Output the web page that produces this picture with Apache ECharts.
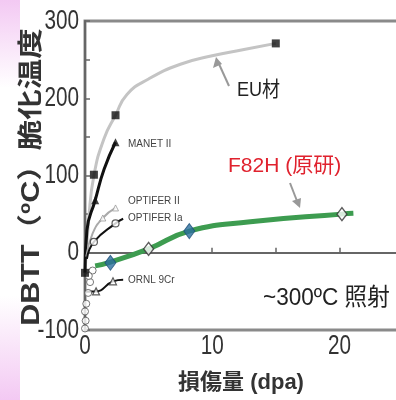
<!DOCTYPE html>
<html><head><meta charset="utf-8">
<script src="https://cdn.jsdelivr.net/npm/echarts@6/dist/echarts.min.js"></script>
<style>html,body{margin:0;padding:0;background:#fff}#c{width:396px;height:400px}</style>
</head><body><div id="c"></div>
<script>
// ---- data ----
var xTicks = [0, 10, 20];
var yTicks = [-100, 0, 100, 200, 300];
// EU材: fitted gray curve and measured points
var euCurve = [[0,-26],[0.3,45],[0.7,100],[1.5,148],[2.4,178],[3.3,205],[5,225],[7.5,244],[10,255],[12.5,263],[15,271]];
var euPoints = [[0,-26],[0.7,101],[2.4,178],[15,271]];
// MANET II
var manetLine = [[0,-26],[0.15,29],[0.8,68],[1.5,108],[2.4,143]];
var manetPoints = [[0.8,68],[2.4,143]];
// OPTIFER II
var optIILine = [[0.1,-5],[0.6,25],[1.4,45],[2.4,58]];
var optIIPoints = [[1.4,45],[2.4,58]];
// OPTIFER Ia
var optIaLine = [[0.15,-8],[0.7,14],[2.4,38],[3.0,44]];
var optIaPoints = [[0.7,14],[2.4,38]];
// ORNL 9Cr
var ornlLine = [[0,-50],[0.87,-50],[2.2,-37],[3.0,-35]];
var ornlPoints = [[0.87,-50],[2.2,-37]];
// F82H (原研)
var f82hCurve = [[0.8,-17],[2,-12],[5,5],[8.2,28],[13,40],[20.2,50],[21.1,51]];
var f82hBlue = [[2,-13],[8.2,28]];
var f82hOpen = [[5,5],[20.2,50]];
// other low-dose points near origin
var lowDose = [[0.6,-23],[0.4,-38],[0.25,-52],[0.1,-66],[0,-76],[0.05,-88],[0.3,-30],[0,-98]];

var chart = echarts.init(document.getElementById('c'));
var LBL = 'Liberation Sans, Noto Sans CJK JP, sans-serif';
var baseGraphics = [
  {type: 'rect', left: 0, top: 0, z: -1, shape: {width: 20, height: 400},
    style: {fill: new echarts.graphic.LinearGradient(0, 0, 0, 1, [
      {offset: 0, color: '#f3c9f3'}, {offset: 0.22, color: '#ffffff'},
      {offset: 0.74, color: '#ffffff'}, {offset: 1, color: '#f3c9f3'}])}},
  {type: 'text', x: 32, y: 177, rotation: Math.PI / 2, scaleX: 1.22, z: 10,
    style: {text: 'DBTT（ºC）脆化温度', font: 'bold 25px ' + LBL, fill: '#333', textAlign: 'center', textVerticalAlign: 'middle'}},
  {type: 'text', x: 241, y: 383, z: 10,
    style: {text: '損傷量 (dpa)', font: 'bold 22px ' + LBL, fill: '#333', textAlign: 'center', textVerticalAlign: 'middle'}},
  {type: 'text', x: 237, y: 90, scaleX: 0.86, z: 10,
    style: {text: 'EU材', font: '21px ' + LBL, fill: '#222', textVerticalAlign: 'middle'}},
  {type: 'text', x: 228, y: 166, z: 10,
    style: {text: 'F82H (原研)', font: '21px ' + LBL, fill: '#e0222e', textVerticalAlign: 'middle'}},
  {type: 'text', x: 263, y: 298, scaleX: 0.94, z: 10,
    style: {text: '~300ºC 照射', font: '24px ' + LBL, fill: '#222', textVerticalAlign: 'middle'}},
  {type: 'text', x: 128, y: 144, z: 10, style: {text: 'MANET II', font: '10px Liberation Sans', fill: '#444', textVerticalAlign: 'middle'}},
  {type: 'text', x: 128, y: 201, z: 10, style: {text: 'OPTIFER II', font: '10px Liberation Sans', fill: '#444', textVerticalAlign: 'middle'}},
  {type: 'text', x: 128, y: 218, z: 10, style: {text: 'OPTIFER Ia', font: '10px Liberation Sans', fill: '#444', textVerticalAlign: 'middle'}},
  {type: 'text', x: 128, y: 280, z: 10, style: {text: 'ORNL 9Cr', font: '10px Liberation Sans', fill: '#444', textVerticalAlign: 'middle'}},
  {type: 'line', z: 10, shape: {x1: 229, y1: 86, x2: 219, y2: 64}, style: {stroke: '#999', lineWidth: 2}},
  {type: 'polygon', z: 10, shape: {points: [[216, 57], [213, 68], [222, 64]]}, style: {fill: '#999'}},
  {type: 'line', z: 10, shape: {x1: 290, y1: 183, x2: 297, y2: 201}, style: {stroke: '#999', lineWidth: 2}},
  {type: 'polygon', z: 10, shape: {points: [[300, 208], [292, 201], [301, 198]]}, style: {fill: '#999'}}
];
chart.setOption({
  animation: false,
  backgroundColor: '#fff',
  grid: {left: 85, width: 318, top: 21, height: 309, outerBoundsMode: 'none', containLabel: false,
    show: true, borderColor: '#8a8a8a', borderWidth: 3},
  xAxis: {
    type: 'value', min: 0, max: 25, interval: 5,
    axisLine: {lineStyle: {color: '#666', width: 2}},
    axisTick: {inside: true, length: 5, lineStyle: {color: '#666', width: 1.5}},
    splitLine: {show: false},
    axisLabel: {show: false}
  },
  yAxis: {
    type: 'value', min: -100, max: 300, interval: 50,
    axisLine: {lineStyle: {color: '#666', width: 2}},
    axisTick: {inside: true, length: 5, lineStyle: {color: '#666', width: 1.5}},
    splitLine: {show: false},
    axisLabel: {show: false}
  },
  series: [
    {type: 'line', data: euCurve, smooth: true, showSymbol: false, lineStyle: {color: '#c4c4c4', width: 3}, z: 2},
    {type: 'scatter', data: euPoints, symbol: 'rect', symbolSize: 8, itemStyle: {color: '#111'}, z: 5},
    {type: 'line', data: manetLine, smooth: true, showSymbol: false, lineStyle: {color: '#111', width: 3}, z: 3},
    {type: 'scatter', data: manetPoints, symbol: 'triangle', symbolSize: 8, itemStyle: {color: '#111'}, z: 5},
    {type: 'line', data: optIILine, smooth: true, showSymbol: false, lineStyle: {color: '#aaa', width: 2}, z: 3},
    {type: 'scatter', data: optIIPoints, symbol: 'triangle', symbolSize: 6, itemStyle: {color: '#fff', borderColor: '#999', borderWidth: 1}, z: 5},
    {type: 'line', data: optIaLine, smooth: true, showSymbol: false, lineStyle: {color: '#111', width: 2}, z: 3},
    {type: 'scatter', data: optIaPoints, symbol: 'circle', symbolSize: 7, itemStyle: {color: '#fff', borderColor: '#333', borderWidth: 1.2}, z: 5},
    {type: 'line', data: ornlLine, smooth: true, showSymbol: false, lineStyle: {color: '#111', width: 2}, z: 3},
    {type: 'scatter', data: ornlPoints, symbol: 'triangle', symbolSize: 7, itemStyle: {color: '#fff', borderColor: '#333', borderWidth: 1.2}, z: 5},
    {type: 'scatter', data: lowDose, symbol: 'circle', symbolSize: 7, itemStyle: {color: '#fff', borderColor: '#555', borderWidth: 1}, z: 4},
    {type: 'line', data: f82hCurve, smooth: true, showSymbol: false, lineStyle: {color: '#3d9c50', width: 5}, z: 3},
    {type: 'scatter', data: f82hBlue, symbol: 'diamond', symbolSize: [11, 15], itemStyle: {color: '#2c6e9e', borderColor: '#1d4f78', borderWidth: 1}, z: 6},
    {type: 'scatter', data: f82hOpen, symbol: 'diamond', symbolSize: [10, 13], itemStyle: {color: '#fff', borderColor: '#333', borderWidth: 1.3}, z: 6}
  ],
  graphic: baseGraphics
});

// tick labels: condensed real text placed through the library's own scales
var tickGraphics = [];
yTicks.forEach(function (v) {
  var p = chart.convertToPixel({gridIndex: 0}, [0, v]);
  tickGraphics.push({type: 'text', x: p[0] - 6, y: p[1], scaleX: 0.74, z: 9,
    style: {text: String(v), font: '28px Liberation Sans', fill: '#333', textAlign: 'right', textVerticalAlign: 'middle'}});
});
xTicks.forEach(function (v) {
  var p = chart.convertToPixel({gridIndex: 0}, [v, -100]);
  tickGraphics.push({type: 'text', x: p[0], y: p[1] + 2, scaleX: 0.74, z: 9,
    style: {text: String(v), font: '28px Liberation Sans', fill: '#333', textAlign: 'center', textVerticalAlign: 'top'}});
});
chart.setOption({graphic: baseGraphics.concat(tickGraphics)});
</script></body></html>
